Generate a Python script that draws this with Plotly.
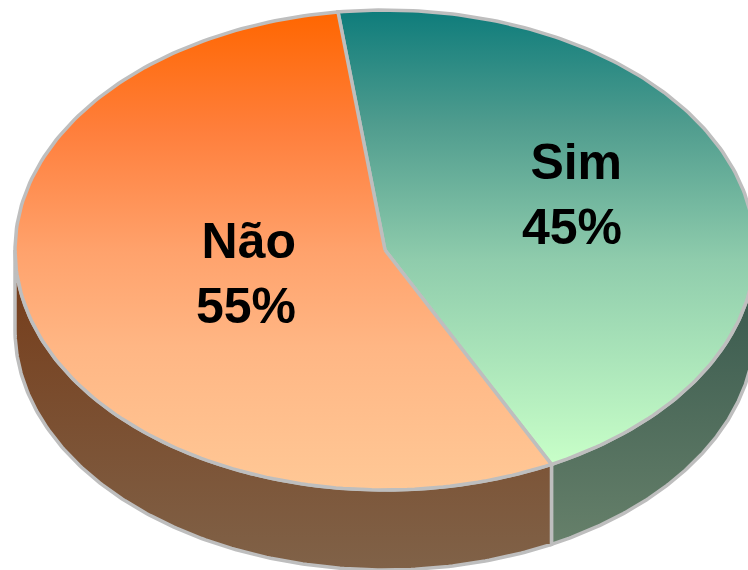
import numpy as np
import plotly.graph_objects as go

categories = ["Sim", "Não"]
shares = [44.6, 55.4]
face_stops = [
    [[0, "#C8FFC8"], [0.45, "#8FCCAC"], [0.75, "#4F9C8E"], [1, "#0E7C7B"]],
    [[0, "#FFC896"], [0.3, "#FFB684"], [0.5, "#FFA26C"], [0.75, "#FF7F3C"], [1, "#FF6600"]],
]
wall_top_colors = ["#33544A", "#753A17"]
wall_bottom_colors = ["#66806A", "#806248"]
label_xy = [(624, 194), (298, 273)]

W, H = 748, 570
cx, cy, rx, ry, depth = 385, 250, 370, 240, 80
start_angle = 97.3
edge = "#BEBEBE"


def arc(a0, a1, dy=0.0):
    t = np.radians(np.linspace(a0, a1, 181))
    return cx + rx * np.cos(t), cy - ry * np.sin(t) + dy


def poly(x, y, stops):
    return go.Scatter(
        x=list(x), y=list(y), mode="lines", fill="toself",
        line=dict(color=edge, width=3.5), hoverinfo="skip", showlegend=False,
        fillgradient=dict(type="vertical", colorscale=stops),
    )


fig = go.Figure()

sim_end = start_angle - 360 * shares[0] / sum(shares)

# Side walls (only the front half of the pie is visible)
x0, y0 = arc(sim_end, 0)
x1, y1 = arc(0, sim_end, depth)
fig.add_trace(poly(np.r_[x0, x1, x0[0]], np.r_[y0, y1, y0[0]],
                   [[0, wall_bottom_colors[0]], [1, wall_top_colors[0]]]))
x0, y0 = arc(180, 360 + sim_end)
x1, y1 = arc(360 + sim_end, 180, depth)
fig.add_trace(poly(np.r_[x0, x1, x0[0]], np.r_[y0, y1, y0[0]],
                   [[0, wall_bottom_colors[1]], [1, wall_top_colors[1]]]))

# Top faces
a = start_angle
for i, s in enumerate(shares):
    b = a - 360 * s / sum(shares)
    x, y = arc(a, b)
    fig.add_trace(poly(np.r_[cx, x, cx], np.r_[cy, y, cy], face_stops[i]))
    a = b

total = sum(shares)
for name, s, (lx, ly) in zip(categories, shares, label_xy):
    fig.add_annotation(
        x=lx, y=ly, xref="x", yref="y", xanchor="right", yanchor="middle",
        text=f"<b>{name}<br>{round(100 * s / total)}%</b>", showarrow=False,
        align="right",
        font=dict(family="Liberation Sans", size=50, color="#000000"),
    )

fig.update_layout(
    width=W, height=H, margin=dict(l=0, r=0, t=0, b=0),
    paper_bgcolor="white", plot_bgcolor="white", showlegend=False,
    xaxis=dict(range=[0, W], visible=False, fixedrange=True),
    yaxis=dict(range=[H, 0], visible=False, fixedrange=True),
)
fig.write_html("out.html", config={"displayModeBar": False},
               post_script="document.body.style.margin='0';document.body.style.overflow='hidden';")
